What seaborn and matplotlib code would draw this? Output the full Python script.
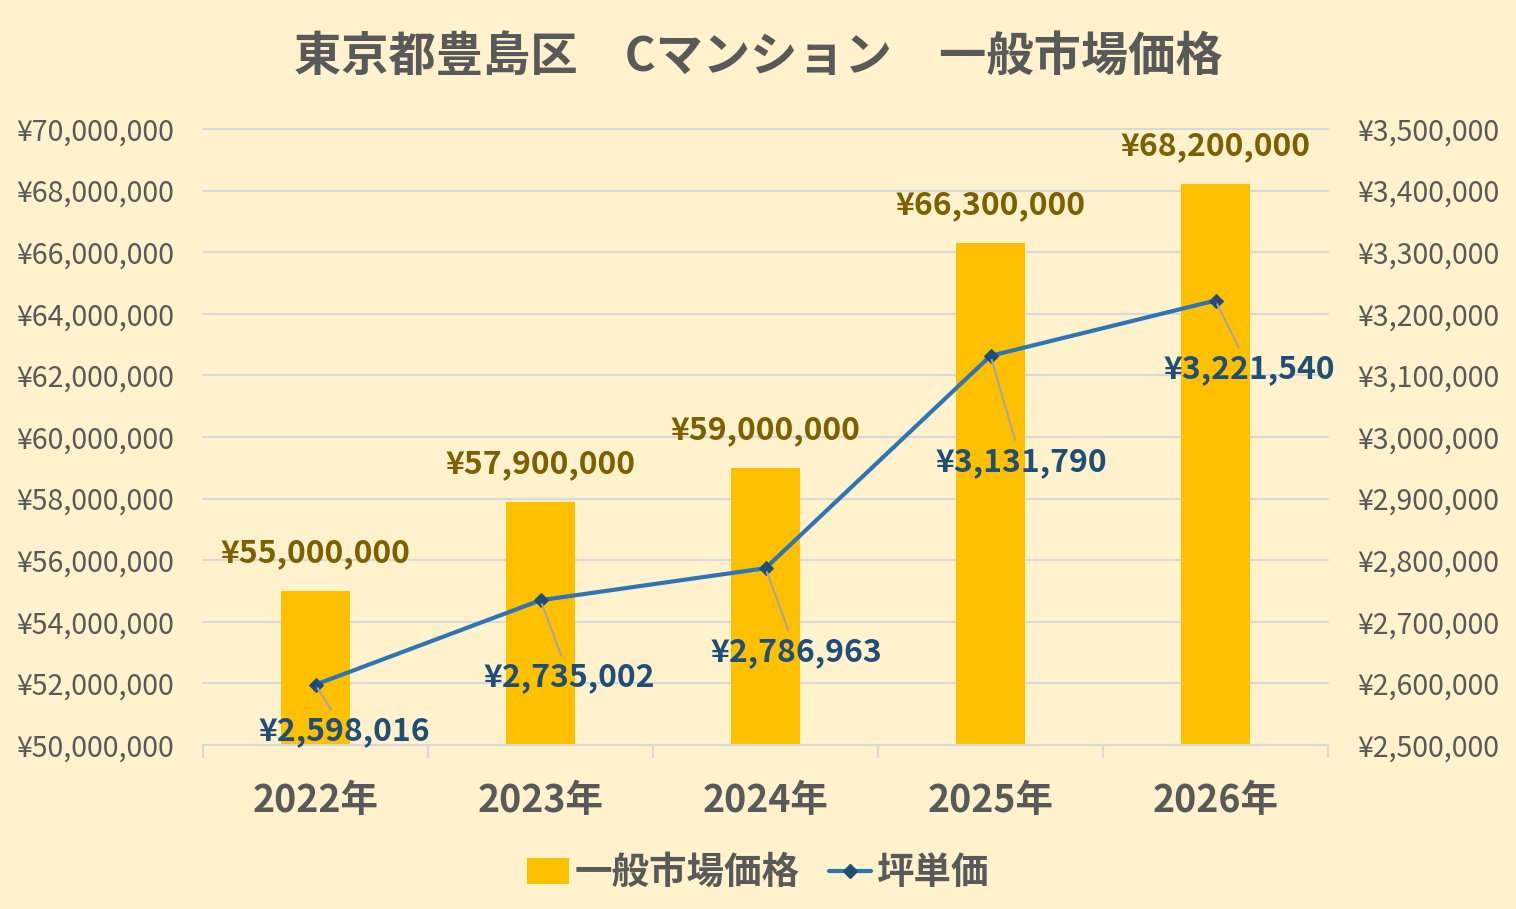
import numpy as np
import pandas as pd
import matplotlib
matplotlib.use("Agg")
import matplotlib.pyplot as plt
import seaborn as sns
from matplotlib.ticker import FuncFormatter, MultipleLocator
from matplotlib.patches import Patch
from matplotlib.lines import Line2D

years = ["2022年", "2023年", "2024年", "2025年", "2026年"]
market_price = [55000000, 57900000, 59000000, 66300000, 68200000]
tsubo_price = [2598016, 2735002, 2786963, 3131790, 3221540]
title = "東京都豊島区　Cマンション　一般市場価格"
bar_name = "一般市場価格"
line_name = "坪単価"

BG = "#FFF2CC"
BAR = "#FFC000"
LINE = "#2E75B6"
MARK = "#1F4E79"
GRAY = "#595959"
GRID = "#D9D9D9"

sns.set_theme(style="white")
plt.rcParams["font.family"] = ["Noto Sans CJK JP", "DejaVu Sans"]

df = pd.DataFrame({"year": years, "price": market_price, "tsubo": tsubo_price})

fig = plt.figure(figsize=(15.16, 9.09), dpi=100, facecolor=BG)
ax = fig.add_axes([203 / 1516, 1 - 745 / 909, 1125 / 1516, 616 / 909])
ax.set_facecolor(BG)

sns.barplot(data=df, x="year", y="price", color=BAR, width=0.31, ax=ax,
            saturation=1, linewidth=0, edgecolor="none", zorder=2)
ax.set_xlim(-0.5, len(years) - 0.5)
ax.set_ylim(50000000, 70000000)
ax.yaxis.set_major_locator(MultipleLocator(2000000))
ax.yaxis.set_major_formatter(FuncFormatter(lambda v, p: f"¥{v:,.0f}"))
ax.grid(axis="y", color=GRID, linewidth=1.5, zorder=0)
for gl in ax.get_ygridlines():
    gl.set_clip_on(False)
ax.set_axisbelow(True)
ax.set_xlabel("")
ax.set_ylabel("")
for s in ["left", "right", "top"]:
    ax.spines[s].set_visible(False)
ax.spines["bottom"].set_color(GRID)
ax.spines["bottom"].set_linewidth(1.5)
ax.tick_params(axis="y", length=0, pad=21, labelsize=20.5, labelcolor=GRAY)
ax.tick_params(axis="x", which="major", length=0, pad=26, labelsize=27, labelcolor=GRAY)
for lbl in ax.get_xticklabels():
    lbl.set_fontweight("bold")
ax.set_xticks(np.arange(-0.5, len(years)), minor=True)
ax.tick_params(axis="x", which="minor", bottom=True, direction="out", length=9,
               width=1.5, color=GRID)

for i, v in enumerate(market_price):
    ax.annotate(f"¥{v:,.0f}", xy=(i, v), xytext=(0, 38), textcoords="offset pixels",
                ha="center", va="center", fontsize=23, fontweight="bold",
                color="#7F6000", zorder=5)

ax2 = ax.twinx()
sns.lineplot(x=np.arange(len(years)), y=tsubo_price, ax=ax2, color=LINE,
             linewidth=3.0, marker="D", markersize=7, markerfacecolor=MARK,
             markeredgecolor=MARK, zorder=4)
ax2.set_ylim(2500000, 3500000)
ax2.yaxis.set_major_locator(MultipleLocator(100000))
ax2.yaxis.set_major_formatter(FuncFormatter(lambda v, p: f"¥{v:,.0f}"))
for s in ["left", "right", "top", "bottom"]:
    ax2.spines[s].set_visible(False)
ax2.tick_params(axis="y", length=0, pad=21, labelsize=20.5, labelcolor=GRAY)
ax2.set_ylabel("")
ax2.grid(False)

offsets = [(29, -47), (29, -77), (31, -84), (31, -106), (34, -69)]
for i, v in enumerate(tsubo_price):
    ax2.annotate(f"¥{v:,.0f}", xy=(i, v), xytext=offsets[i], textcoords="offset pixels",
                 ha="center", va="center", fontsize=23, fontweight="bold", color=MARK,
                 arrowprops=dict(arrowstyle="-", color="#A6A6A6", lw=1.5,
                                 shrinkA=2, shrinkB=3), zorder=5)

fig.text(0.5, 0.938, title, ha="center", va="center", fontsize=34,
         fontweight="bold", color=GRAY)

handles = [Patch(facecolor=BAR, edgecolor="none"),
           Line2D([0], [0], color=LINE, linewidth=3.0, marker="D", markersize=7,
                  markerfacecolor=MARK, markeredgecolor=MARK)]
leg = fig.legend(handles, [bar_name, line_name], loc="center",
                 bbox_to_anchor=(0.5, 0.04), ncol=2, frameon=False,
                 prop={"size": 27, "weight": "bold"}, handlelength=1.1,
                 handletextpad=0.15, columnspacing=0.8)
for t in leg.get_texts():
    t.set_color(GRAY)

fig.savefig("out.png", dpi=100, facecolor=BG)
